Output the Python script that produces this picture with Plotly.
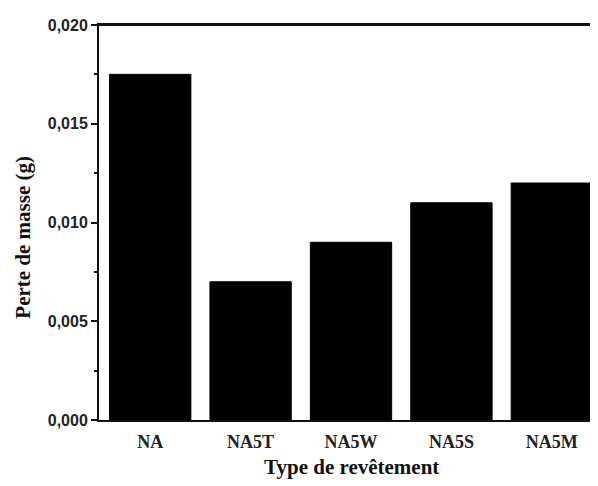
import plotly.graph_objects as go

categories = ["NA", "NA5T", "NA5W", "NA5S", "NA5M"]
mass_loss = [0.0175, 0.007, 0.009, 0.011, 0.012]
y_ticks = [0.0, 0.005, 0.010, 0.015, 0.020]

fig = go.Figure()
fig.add_trace(go.Bar(
    x=categories, y=mass_loss, width=0.81,
    marker=dict(color="#000000", line=dict(color="#000000", width=1)),
))

serif_bold = dict(family="Liberation Serif", size=21, color="#111", weight="bold")

fig.update_layout(
    width=590, height=478,
    margin=dict(l=91, r=0, t=17, b=66),
    paper_bgcolor="white", plot_bgcolor="white",
    separators=",.",
    showlegend=False,
    xaxis=dict(
        range=[-0.51, 4.46],
        showline=True, linecolor="#111", linewidth=2, mirror=True,
        ticks="", showgrid=False, zeroline=False,
        ticklabelstandoff=4,
        tickfont=dict(family="Liberation Serif", size=18, color="#222", weight="bold"),
    ),
    yaxis=dict(
        range=[0, 0.020],
        tickvals=y_ticks, tickformat=".3f",
        showline=True, linecolor="#111", linewidth=2,
        ticks="outside", ticklen=6, tickwidth=2, tickcolor="#111",
        minor=dict(dtick=0.0025, ticks="outside", ticklen=3, tickwidth=2, tickcolor="#111", showgrid=False),
        showgrid=False, zeroline=False,
        tickfont=dict(family="Liberation Sans", size=16, color="#222", weight="bold"),
    ),
    shapes=[dict(type="line", xref="paper", yref="paper", x0=-0.013, x1=1.0, y0=1, y1=1,
                 line=dict(color="#111", width=2))],
    annotations=[
        dict(text="Type de revêtement", xref="paper", yref="paper", x=0.507, y=-0.119,
             xanchor="center", yanchor="middle", showarrow=False, font=serif_bold),
        dict(text="Perte de masse (g)", xref="paper", yref="paper", x=-0.154, y=0.462,
             xanchor="center", yanchor="middle", textangle=-90, showarrow=False, font=serif_bold),
    ],
)

fig.write_html("out.html")
